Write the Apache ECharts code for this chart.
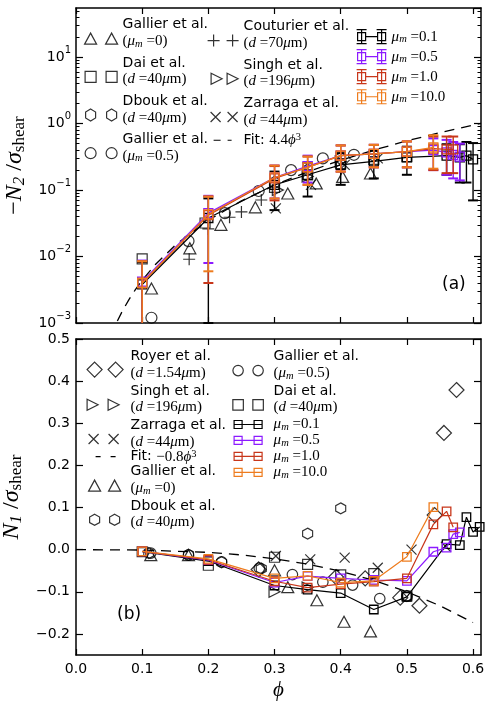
<!DOCTYPE html>
<html>
<head>
<meta charset="utf-8">
<script src="https://cdn.jsdelivr.net/npm/echarts@6.0.0/dist/echarts.min.js"></script>
<style>
html,body{margin:0;padding:0;background:#ffffff;}
#chart{width:485px;height:702px;}
</style>
</head>
<body>
<div id="chart"></div>
<script>
// ---------------- tick labels ----------------
const xTickValues = [0.0, 0.1, 0.2, 0.3, 0.4, 0.5, 0.6];
const n1TickValues = [-0.2, -0.1, 0.0, 0.1, 0.2, 0.3, 0.4, 0.5];
const n2MinorTickValues = [0.002,0.003,0.004,0.005,0.006,0.007,0.008,0.009,
  0.02,0.03,0.04,0.05,0.06,0.07,0.08,0.09,
  0.2,0.3,0.4,0.5,0.6,0.7,0.8,0.9,
  2,3,4,5,6,7,8,9,
  20,30,40,50];

// ---------------- panel (a): -N2 / sigma_shear ----------------
const aGallier0  = [[0.114,0.0033],[0.172,0.0133],[0.219,0.030],[0.271,0.055],[0.32,0.089],[0.363,0.126],[0.403,0.158],[0.445,0.178]];
const aDai       = [[0.1,0.0092],[0.195,0.032],[0.3,0.11],[0.35,0.17],[0.4,0.25],[0.45,0.29],[0.5,0.32]];
const aDbouk     = [[0.3,0.13],[0.35,0.2],[0.4,0.3],[0.45,0.33]];
const aGallier05 = [[0.114,0.0012],[0.17,0.0171],[0.225,0.045],[0.276,0.097],[0.325,0.2],[0.373,0.3],[0.42,0.34]];
const aCouturier = [[0.171,0.0091],[0.2,0.026],[0.232,0.039],[0.25,0.047],[0.28,0.071]];
const aSingh     = [[0.305,0.10],[0.35,0.16],[0.4,0.27]];
const aZarraga   = [[0.302,0.053],[0.355,0.12],[0.406,0.24],[0.456,0.3]];
const aFitPhi    = [0.0625,0.07,0.08,0.09,0.1,0.12,0.15,0.2,0.25,0.3,0.35,0.4,0.45,0.5,0.55,0.612];
const aFitVal    = [0.00107,0.00151,0.00225,0.00321,0.0044,0.0076,0.01485,0.0352,0.06875,0.1188,0.18865,0.2816,0.40095,0.55,0.73205,1.0085];

const aPhiMu01 = [0.1,0.2,0.3,0.35,0.4,0.45,0.5,0.56,0.58,0.59,0.6];
const aValMu01 = [0.0038,0.038,0.12,0.17,0.24,0.27,0.31,0.33,0.31,0.33,0.29];
const aErrMu01 = [0.0045,0.037,0.07,0.09,0.12,0.12,0.14,0.16,0.18,0.2,0.22];
const aPhiMu05 = [0.1,0.2,0.3,0.35,0.4,0.45,0.5,0.54,0.56,0.57,0.58];
const aValMu05 = [0.0042,0.045,0.155,0.23,0.33,0.35,0.38,0.40,0.37,0.34,0.32];
const aErrMu05 = [0.0045,0.037,0.08,0.1,0.14,0.13,0.16,0.2,0.2,0.19,0.18];
const aPhiMu1  = [0.1,0.2,0.3,0.35,0.4,0.45,0.5,0.54,0.56,0.57];
const aValMu1  = [0.004,0.042,0.15,0.22,0.33,0.35,0.38,0.42,0.41,0.41];
const aErrMu1  = [0.0045,0.038,0.08,0.1,0.14,0.13,0.16,0.22,0.23,0.23];
const aPhiMu10 = [0.1,0.2,0.3,0.35,0.4,0.45,0.5,0.54];
const aValMu10 = [0.004,0.043,0.155,0.22,0.33,0.35,0.38,0.44];
const aErrMu10 = [0.0045,0.037,0.08,0.1,0.14,0.13,0.16,0.23];

// ---------------- panel (b): N1 / sigma_shear ----------------
const bRoyer     = [[0.276,-0.047],[0.393,-0.065],[0.437,-0.068],[0.49,-0.114],[0.519,-0.133],[0.542,0.082],[0.556,0.277],[0.575,0.379]];
const bSingh     = [[0.3,-0.1],[0.35,-0.09]];
const bZarraga   = [[0.302,-0.015],[0.354,-0.023],[0.406,-0.019],[0.456,-0.043],[0.507,0.0],[0.559,0.007]];
const bGallier0  = [[0.113,-0.013],[0.17,-0.013],[0.3,-0.049],[0.32,-0.089],[0.364,-0.12],[0.405,-0.171],[0.445,-0.194]];
const bDbouk     = [[0.11,-0.008],[0.17,-0.012],[0.22,-0.03],[0.28,-0.045],[0.35,0.038],[0.4,0.098],[0.5,-0.11]];
const bGallier05 = [[0.113,-0.008],[0.17,-0.013],[0.22,-0.029],[0.277,-0.044],[0.327,-0.059],[0.373,-0.077],[0.418,-0.084],[0.459,-0.116],[0.5,-0.11]];
const bDai       = [[0.1,-0.005],[0.2,-0.037],[0.3,-0.018],[0.35,-0.035],[0.4,-0.06],[0.45,-0.057],[0.5,-0.11]];
const bFitPhi    = [0.0,0.1,0.2,0.25,0.3,0.35,0.4,0.45,0.5,0.55,0.6];
const bFitVal    = [0.0,-0.0008,-0.0064,-0.0125,-0.0216,-0.0343,-0.0512,-0.0729,-0.1,-0.1331,-0.1728];

const bPhiMu01 = [0.1,0.2,0.3,0.35,0.4,0.45,0.5,0.56,0.58,0.59,0.6,0.61];
const bValMu01 = [-0.005,-0.027,-0.085,-0.095,-0.103,-0.142,-0.112,0.013,0.011,0.077,0.042,0.054];
const bPhiMu05 = [0.1,0.2,0.3,0.35,0.4,0.45,0.5,0.54,0.56,0.57,0.58];
const bValMu05 = [-0.004,-0.025,-0.078,-0.063,-0.068,-0.072,-0.074,-0.005,0.005,0.037,0.041];
const bPhiMu1  = [0.1,0.2,0.3,0.35,0.4,0.45,0.5,0.54,0.56,0.57];
const bValMu1  = [-0.004,-0.024,-0.075,-0.09,-0.082,-0.076,-0.068,0.06,0.091,0.053];
const bPhiMu10 = [0.1,0.2,0.3,0.35,0.4,0.45,0.5,0.54];
const bValMu10 = [-0.004,-0.022,-0.068,-0.062,-0.078,-0.074,-0.017,0.101];

// ---------------- styles ----------------
const SANS = 'DejaVu Sans';
const SERIF = '"Liberation Serif", "DejaVu Serif", serif';
const C01 = '#000000', C05 = '#8c1aff', C1 = '#c8361a', C10 = '#ee7c1e';
const N2_MIN = 0.001, N2_MAX = 55;
const L = 16.5;

const HEX = 'path://M5,0L10,3L10,9L5,12L0,9L0,3Z';
const PLUS = 'path://M0,6L12,6M6,0L6,12';
const CROSS = 'path://M0,0L10,10M0,10L10,0';
const RTRI = 'path://M0,0L11,5.5L0,11Z';

// legend icon builders (shapes placed inside a W x H box via phantom corners)
function box(W, H) { return 'M0,0L0,0M' + W + ',' + H + 'L' + W + ',' + H; }
function tri(cx, cy, w, h) { return 'M' + (cx - w / 2) + ',' + (cy + h / 2) + 'L' + cx + ',' + (cy - h / 2) + 'L' + (cx + w / 2) + ',' + (cy + h / 2) + 'Z'; }
function sq(cx, cy, s) { const h = s / 2; return 'M' + (cx - h) + ',' + (cy - h) + 'L' + (cx + h) + ',' + (cy - h) + 'L' + (cx + h) + ',' + (cy + h) + 'L' + (cx - h) + ',' + (cy + h) + 'Z'; }
function hex(cx, cy, w, h) { return 'M' + cx + ',' + (cy - h / 2) + 'L' + (cx + w / 2) + ',' + (cy - h / 4) + 'L' + (cx + w / 2) + ',' + (cy + h / 4) + 'L' + cx + ',' + (cy + h / 2) + 'L' + (cx - w / 2) + ',' + (cy + h / 4) + 'L' + (cx - w / 2) + ',' + (cy - h / 4) + 'Z'; }
function circ(cx, cy, r) { return 'M' + (cx - r) + ',' + cy + 'A' + r + ',' + r + ' 0 1 1 ' + (cx + r) + ',' + cy + 'A' + r + ',' + r + ' 0 1 1 ' + (cx - r) + ',' + cy + 'Z'; }
function plus(cx, cy, s) { const h = s / 2; return 'M' + (cx - h) + ',' + cy + 'L' + (cx + h) + ',' + cy + 'M' + cx + ',' + (cy - h) + 'L' + cx + ',' + (cy + h); }
function cross(cx, cy, s) { const h = s / 2; return 'M' + (cx - h) + ',' + (cy - h) + 'L' + (cx + h) + ',' + (cy + h) + 'M' + (cx - h) + ',' + (cy + h) + 'L' + (cx + h) + ',' + (cy - h); }
function rtri(cx, cy, s) { const h = s / 2; return 'M' + (cx - h) + ',' + (cy - h) + 'L' + (cx + h) + ',' + cy + 'L' + (cx - h) + ',' + (cy + h) + 'Z'; }
function diam(cx, cy, w, h) { return 'M' + cx + ',' + (cy - h / 2) + 'L' + (cx + w / 2) + ',' + cy + 'L' + cx + ',' + (cy + h / 2) + 'L' + (cx - w / 2) + ',' + cy + 'Z'; }
function hseg(x1, x2, y) { return 'M' + x1 + ',' + y + 'L' + x2 + ',' + y; }
function errHandle(cx, cy) { return 'M' + (cx - 5) + ',' + (cy - 7) + 'L' + (cx + 5) + ',' + (cy - 7) + 'M' + (cx - 5) + ',' + (cy + 7) + 'L' + (cx + 5) + ',' + (cy + 7) + 'M' + cx + ',' + (cy - 7) + 'L' + cx + ',' + (cy + 7) + sq(cx, cy, 8); }
function icon(W, H, body) { return 'path://' + box(W, H) + body; }

const LABELS = {
  g0A:  '{t|Gallier et al.}\n{r|(}{m|μ}{s|m}{r| =0)}',
  daiA: '{t|Dai et al.}\n{r|(}{m|d}{r| =40}{m|μ}{r|m)}',
  dbkA: '{t|Dbouk et al.}\n{r|(}{m|d}{r| =40}{m|μ}{r|m)}',
  g05A: '{t|Gallier et al.}\n{r|(}{m|μ}{s|m}{r| =0.5)}',
  coutA:'{t|Couturier et al.}\n{r|(}{m|d}{r| =70}{m|μ}{r|m)}',
  sinA: '{t|Singh et al.}\n{r|(}{m|d}{r| =196}{m|μ}{r|m)}',
  zarA: '{t|Zarraga et al.}\n{r|(}{m|d}{r| =44}{m|μ}{r|m)}',
  fitA: '{t|Fit: }{r|4.4}{m|ϕ}{p|3}',
  m01A: '{m|μ}{s|m}{r| =0.1}',
  m05A: '{m|μ}{s|m}{r| =0.5}',
  m1A:  '{m|μ}{s|m}{r| =1.0}',
  m10A: '{m|μ}{s|m}{r| =10.0}',
  royB: '{t|Royer et al.}\n{r|(}{m|d}{r| =1.54}{m|μ}{r|m)}',
  sinB: '{t|Singh et al.}\n{r|(}{m|d}{r| =196}{m|μ}{r|m)}',
  zarB: '{t|Zarraga et al.}\n{r|(}{m|d}{r| =44}{m|μ}{r|m)}',
  fitB: '{t|Fit: }{r|−0.8}{m|ϕ}{p|3}',
  g0B:  '{t|Gallier et al.}\n{r|(}{m|μ}{s|m}{r| =0)}',
  dbkB: '{t|Dbouk et al.}\n{r|(}{m|d}{r| =40}{m|μ}{r|m)}',
  g05B: '{t|Gallier et al.}\n{r|(}{m|μ}{s|m}{r| =0.5)}',
  daiB: '{t|Dai et al.}\n{r|(}{m|d}{r| =40}{m|μ}{r|m)}',
  m01B: '{m|μ}{s|m}{r| =0.1}',
  m05B: '{m|μ}{s|m}{r| =0.5}',
  m1B:  '{m|μ}{s|m}{r| =1.0}',
  m10B: '{m|μ}{s|m}{r| =10.0}'
};

const legendRich = {
  t: {fontFamily: SANS, fontSize: 14, lineHeight: L, color: '#000'},
  r: {fontFamily: SERIF, fontSize: 15, lineHeight: L, color: '#000'},
  m: {fontFamily: SERIF, fontSize: 15, fontStyle: 'italic', lineHeight: L, color: '#000'},
  s: {fontFamily: SERIF, fontSize: 10.5, fontStyle: 'italic', lineHeight: 8, verticalAlign: 'bottom', color: '#000'},
  p: {fontFamily: SERIF, fontSize: 10.5, lineHeight: 8, verticalAlign: 'top', color: '#000'}
};

function item(name, iconPath, color) {
  return {name: name, icon: iconPath,
    itemStyle: {color: 'rgba(0,0,0,0)', borderColor: color, borderWidth: 1.2}};
}
function legend(left, top, W, H, gap, data) {
  return {left: left, top: top, orient: 'vertical', itemWidth: W, itemHeight: H, itemGap: gap,
    padding: 0, selectedMode: false, formatter: function (n) { return LABELS[n]; },
    textStyle: {fontFamily: SANS, fontSize: 14, color: '#000', rich: legendRich}, data: data};
}

// legend icon geometry (two-line entries use a 2L-high box, marker near the lower text line)
const H2 = 2 * L, CY2 = 22;
const A1W = 33, A2W = 31, A4W = 36, A4H = 14, B1W = 39, B4W = 36;

const legends = [
  legend(84, 16, A1W, H2, 4, [
    item('g0A', icon(A1W, H2, tri(6, CY2, 12, 11) + tri(27, CY2, 12, 11)), '#000'),
    item('daiA', icon(A1W, H2, sq(6, CY2, 11) + sq(27, CY2, 11)), '#000'),
    item('dbkA', icon(A1W, H2, hex(6, CY2, 10, 12) + hex(27, CY2, 10, 12)), '#000'),
    item('g05A', icon(A1W, H2, circ(6, CY2, 5.5) + circ(27, CY2, 5.5)), '#000')
  ]),
  legend(207, 18, A2W, H2, 4, [
    item('coutA', icon(A2W, H2, plus(6, CY2, 12) + plus(25, CY2, 12)), '#000'),
    item('sinA', icon(A2W, H2, rtri(9, CY2, 11) + rtri(25, CY2, 11)), '#000'),
    item('zarA', icon(A2W, H2, cross(8, CY2, 10) + cross(25, CY2, 10)), '#000')
  ]),
  legend(207, 132, A2W, 12, 0, [
    item('fitA', icon(A2W, 12, hseg(6, 13, 6) + hseg(20, 24, 6)), '#000')
  ]),
  legend(350, 29, A4W, A4H, 4.2, [
    item('m01A', icon(A4W, A4H, errHandle(11, 7) + errHandle(31, 7) + hseg(15, 27, 7)), C01),
    item('m05A', icon(A4W, A4H, errHandle(11, 7) + errHandle(31, 7) + hseg(15, 27, 7)), C05),
    item('m1A', icon(A4W, A4H, errHandle(11, 7) + errHandle(31, 7) + hseg(15, 27, 7)), C1),
    item('m10A', icon(A4W, A4H, errHandle(11, 7) + errHandle(31, 7) + hseg(15, 27, 7)), C10)
  ]),
  legend(86, 348, B1W, H2, 0, [
    item('royB', icon(B1W, H2, diam(8, CY2 - 1, 15, 15) + diam(29, CY2 - 1, 15, 15)), '#000'),
    item('sinB', icon(B1W, H2, rtri(6, CY2, 11) + rtri(27, CY2, 11)), '#000'),
    item('zarB', icon(B1W, H2, cross(7, CY2, 10) + cross(27, CY2, 10)), '#000')
  ]),
  legend(86, 448, B1W, 16, 0, [
    item('fitB', icon(B1W, 16, hseg(9, 14, 8) + hseg(24, 29, 8)), '#000')
  ]),
  legend(86, 463, B1W, H2, 0, [
    item('g0B', icon(B1W, H2, tri(8, CY2, 12, 11) + tri(28, CY2, 12, 11)), '#000'),
    item('dbkB', icon(B1W, H2, hex(8, CY2, 10, 11) + hex(28, CY2, 10, 11)), '#000')
  ]),
  legend(232, 348, B4W, H2, 0, [
    item('g05B', icon(B4W, H2, circ(5.5, CY2, 5.2) + circ(25.5, CY2, 5.2)), '#000'),
    item('daiB', icon(B4W, H2, sq(5.5, CY2, 10.5) + sq(25.5, CY2, 10.5)), '#000')
  ]),
  legend(232, 417, B4W, 12, 0.2, [
    item('m01B', icon(B4W, 12, sq(5.5, 6, 8) + sq(25.5, 6, 8) + hseg(1.5, 29.5, 6)), C01),
    item('m05B', icon(B4W, 12, sq(5.5, 6, 8) + sq(25.5, 6, 8) + hseg(1.5, 29.5, 6)), C05),
    item('m1B', icon(B4W, 12, sq(5.5, 6, 8) + sq(25.5, 6, 8) + hseg(1.5, 29.5, 6)), C1),
    item('m10B', icon(B4W, 12, sq(5.5, 6, 8) + sq(25.5, 6, 8) + hseg(1.5, 29.5, 6)), C10)
  ])
];

// ---------------- series builders ----------------
function zip(xs, ys) { return xs.map(function (x, i) { return [x, ys[i]]; }); }
function scatter(name, data, symbol, size, xi, yi) {
  return {name: name, type: 'scatter', xAxisIndex: xi, yAxisIndex: yi, data: data,
    symbol: symbol, symbolSize: size, silent: true, z: 2,
    itemStyle: {color: 'rgba(0,0,0,0)', borderColor: '#000', borderWidth: 1.2}};
}
function fitLine(name, xs, ys, xi, yi) {
  return {name: name, type: 'line', xAxisIndex: xi, yAxisIndex: yi, data: zip(xs, ys),
    symbol: 'none', silent: true, z: 3, smooth: false,
    lineStyle: {color: '#000', width: 1.3, type: [10, 7]}, itemStyle: {color: '#000'}};
}
function simLine(name, xs, ys, color, xi, yi, z, size) {
  return {name: name, type: 'line', xAxisIndex: xi, yAxisIndex: yi, data: zip(xs, ys),
    symbol: 'rect', symbolSize: size, showSymbol: true, showAllSymbol: true, silent: true, z: z,
    lineStyle: {color: color, width: 1.2},
    itemStyle: {color: 'rgba(0,0,0,0)', borderColor: color, borderWidth: 1.3}};
}
function errBars(name, xs, ys, es, color, z) {
  return {name: name, type: 'custom', xAxisIndex: 0, yAxisIndex: 0, silent: true, z: z,
    data: xs.map(function (x, i) { return [x, ys[i], es[i]]; }),
    encode: {x: 0, y: 1},
    renderItem: function (params, api) {
      const x = api.value(0), y = api.value(1), e = api.value(2);
      const hiV = y + e;
      let loV = y - e, loCap = true;
      if (loV <= N2_MIN) { loV = N2_MIN; loCap = false; }
      const hi = api.coord([x, hiV]), lo = api.coord([x, loV]);
      const st = {stroke: color, lineWidth: 1.4};
      const cs = {stroke: color, lineWidth: 2};
      const ch = [
        {type: 'line', shape: {x1: hi[0], y1: hi[1], x2: lo[0], y2: lo[1]}, style: st},
        {type: 'line', shape: {x1: hi[0] - 5, y1: hi[1], x2: hi[0] + 5, y2: hi[1]}, style: cs}
      ];
      if (loCap) ch.push({type: 'line', shape: {x1: lo[0] - 5, y1: lo[1], x2: lo[0] + 5, y2: lo[1]}, style: cs});
      return {type: 'group', children: ch};
    }};
}

const series = [
  // panel (a)
  scatter('g0A', aGallier0, 'triangle', [12, 11], 0, 0),
  scatter('daiA', aDai, 'rect', 10, 0, 0),
  scatter('dbkA', aDbouk, HEX, [10, 12], 0, 0),
  scatter('g05A', aGallier05, 'circle', 11, 0, 0),
  scatter('coutA', aCouturier, PLUS, 12, 0, 0),
  scatter('sinA', aSingh, RTRI, 11, 0, 0),
  scatter('zarA', aZarraga, CROSS, 10, 0, 0),
  fitLine('fitA', aFitPhi, aFitVal, 0, 0),
  errBars('e01A', aPhiMu01, aValMu01, aErrMu01, C01, 4),
  simLine('m01A', aPhiMu01, aValMu01, C01, 0, 0, 5, 9),
  errBars('e05A', aPhiMu05, aValMu05, aErrMu05, C05, 6),
  simLine('m05A', aPhiMu05, aValMu05, C05, 0, 0, 7, 9),
  errBars('e1A', aPhiMu1, aValMu1, aErrMu1, C1, 8),
  simLine('m1A', aPhiMu1, aValMu1, C1, 0, 0, 9, 9),
  errBars('e10A', aPhiMu10, aValMu10, aErrMu10, C10, 10),
  simLine('m10A', aPhiMu10, aValMu10, C10, 0, 0, 11, 9),
  // panel (b)
  scatter('royB', bRoyer, 'diamond', [15, 15], 2, 4),
  scatter('sinB', bSingh, RTRI, 11, 2, 4),
  scatter('zarB', bZarraga, CROSS, 10, 2, 4),
  fitLine('fitB', bFitPhi, bFitVal, 2, 4),
  scatter('g0B', bGallier0, 'triangle', [12, 11], 2, 4),
  scatter('dbkB', bDbouk, HEX, [10, 11], 2, 4),
  scatter('g05B', bGallier05, 'circle', 10.5, 2, 4),
  scatter('daiB', bDai, 'rect', 10, 2, 4),
  simLine('m01B', bPhiMu01, bValMu01, C01, 2, 4, 5, 8.5),
  simLine('m05B', bPhiMu05, bValMu05, C05, 2, 4, 7, 8.5),
  simLine('m1B', bPhiMu1, bValMu1, C1, 2, 4, 9, 8.5),
  simLine('m10B', bPhiMu10, bValMu10, C10, 2, 4, 11, 8.5)
];

// ---------------- axes ----------------
const AX = {color: '#000', width: 1.5};
const TK = {color: '#000', width: 1.2};
function xAxis(grid, pos, labels) {
  const a = {gridIndex: grid, type: 'value', min: 0, max: 0.612, position: pos,
    axisLine: {show: true, onZero: false, lineStyle: AX},
    axisTick: {show: true, inside: true, length: 6, lineStyle: TK, customValues: xTickValues},
    axisLabel: {show: labels, customValues: xTickValues, margin: 7, fontFamily: SANS, fontSize: 14, color: '#000',
      formatter: function (v) { return v.toFixed(1); }},
    splitLine: {show: false}};
  if (labels) {
    a.name = 'ϕ'; a.nameLocation = 'middle'; a.nameGap = 25;
    a.nameTextStyle = {fontFamily: SERIF, fontStyle: 'italic', fontSize: 21, color: '#000'};
  }
  return a;
}
const nameRich = {
  nm: {fontFamily: SERIF, fontSize: 24, fontStyle: 'italic', lineHeight: 26, color: '#000'},
  nr: {fontFamily: SERIF, fontSize: 24, lineHeight: 26, color: '#000'},
  ns: {fontFamily: SERIF, fontSize: 17, fontStyle: 'italic', lineHeight: 12, verticalAlign: 'bottom', color: '#000'},
  nsr: {fontFamily: SERIF, fontSize: 17, lineHeight: 12, verticalAlign: 'bottom', color: '#000'}
};
function logFmt(v) {
  const e = Math.log10(v);
  const r = Math.round(e);
  if (Math.abs(e - r) > 1e-6) return '';
  return '{b|10}{e|' + (r < 0 ? '−' + (-r) : String(r)) + '}';
}
const yAxes = [
  {gridIndex: 0, type: 'log', logBase: 10, min: N2_MIN, max: N2_MAX, position: 'left',
    axisLine: {show: true, lineStyle: AX},
    axisTick: {show: true, inside: true, length: 7, lineStyle: TK},
    axisLabel: {showMaxLabel: false, margin: 5, formatter: logFmt, color: '#000',
      rich: {b: {fontFamily: SANS, fontSize: 14, lineHeight: 24, color: '#000'},
             e: {fontFamily: SANS, fontSize: 10, lineHeight: 10, verticalAlign: 'top', color: '#000'}}},
    splitLine: {show: false}, minorTick: {show: false},
    name: '{nr|−}{nm|N}{ns|2}{nr| /}{nm|σ}{nsr|shear}', nameLocation: 'middle', nameGap: 46, nameRotate: 90,
    nameTextStyle: {rich: nameRich}},
  {gridIndex: 0, type: 'log', logBase: 10, min: N2_MIN, max: N2_MAX, position: 'left',
    axisLine: {show: false}, axisLabel: {show: false}, splitLine: {show: false},
    axisTick: {show: true, inside: true, length: 3.5, lineStyle: {color: '#000', width: 1}, customValues: n2MinorTickValues}},
  {gridIndex: 0, type: 'log', logBase: 10, min: N2_MIN, max: N2_MAX, position: 'right',
    axisLine: {show: true, lineStyle: AX}, axisLabel: {show: false}, splitLine: {show: false},
    axisTick: {show: true, inside: true, length: 7, lineStyle: TK}},
  {gridIndex: 0, type: 'log', logBase: 10, min: N2_MIN, max: N2_MAX, position: 'right',
    axisLine: {show: false}, axisLabel: {show: false}, splitLine: {show: false},
    axisTick: {show: true, inside: true, length: 3.5, lineStyle: {color: '#000', width: 1}, customValues: n2MinorTickValues}},
  {gridIndex: 1, type: 'value', min: -0.25, max: 0.5, position: 'left',
    axisLine: {show: true, onZero: false, lineStyle: AX},
    axisTick: {show: true, inside: true, length: 7, lineStyle: TK, customValues: n1TickValues},
    axisLabel: {customValues: n1TickValues, margin: 6, fontFamily: SANS, fontSize: 14, color: '#000',
      formatter: function (v) { return v < 0 ? '−' + (-v).toFixed(1) : v.toFixed(1); }},
    splitLine: {show: false},
    name: '{nm|N}{ns|1}{nr| /}{nm|σ}{nsr|shear}', nameLocation: 'middle', nameGap: 46, nameRotate: 90,
    nameTextStyle: {rich: nameRich}},
  {gridIndex: 1, type: 'value', min: -0.25, max: 0.5, position: 'right',
    axisLine: {show: true, onZero: false, lineStyle: AX}, axisLabel: {show: false}, splitLine: {show: false},
    axisTick: {show: true, inside: true, length: 7, lineStyle: TK, customValues: n1TickValues}}
];

const option = {
  animation: false,
  backgroundColor: '#ffffff',
  title: [
    {text: '(a)', left: 442, top: 276, padding: 0, textStyle: {fontFamily: SANS, fontSize: 17, fontWeight: 'normal', color: '#000'}},
    {text: '(b)', left: 117, top: 606, padding: 0, textStyle: {fontFamily: SANS, fontSize: 17, fontWeight: 'normal', color: '#000'}}
  ],
  grid: [
    {left: 76, top: 8, width: 405, height: 315, containLabel: false, outerBoundsMode: 'none'},
    {left: 76, top: 339, width: 405, height: 316, containLabel: false, outerBoundsMode: 'none'}
  ],
  xAxis: [xAxis(0, 'bottom', false), xAxis(0, 'top', false), xAxis(1, 'bottom', true), xAxis(1, 'top', false)],
  yAxis: yAxes,
  legend: legends,
  series: series
};

const chart = echarts.init(document.getElementById('chart'), null, {renderer: 'canvas'});
chart.setOption(option);
</script>
</body>
</html>
